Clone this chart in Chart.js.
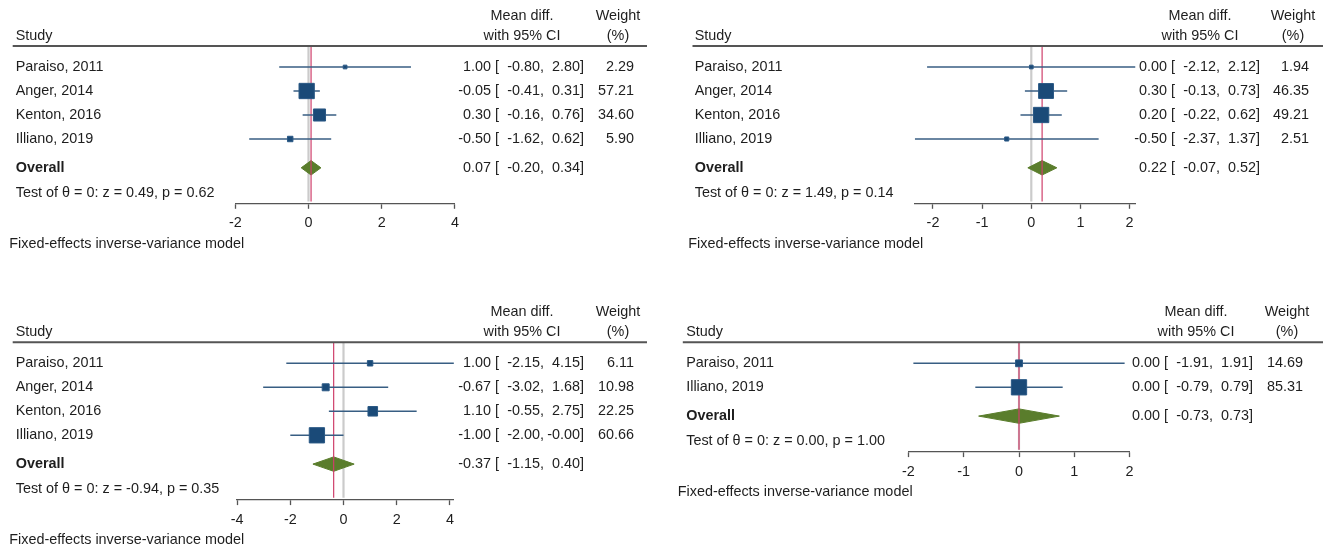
<!DOCTYPE html>
<html>
<head>
<meta charset="utf-8">
<script src="https://cdn.jsdelivr.net/npm/chart.js@4.4.1/dist/chart.umd.min.js"></script>
<style>
  body { margin: 0; background: #fff; width: 1325px; height: 546px; position: relative; overflow: hidden; }
  .panel { position: absolute; width: 660px; height: 256px; }
</style>
</head>
<body>
<div class="panel" style="left:0;top:0"><canvas id="plotA" width="660" height="256"></canvas></div>
<div class="panel" style="left:665px;top:0"><canvas id="plotB" width="660" height="256"></canvas></div>
<div class="panel" style="left:0;top:290px"><canvas id="plotC" width="660" height="256"></canvas></div>
<div class="panel" style="left:665px;top:290px"><canvas id="plotD" width="660" height="256"></canvas></div>
<script>
// ---- data, one block per forest plot ----

// top left
const studiesA = ['Paraiso, 2011', 'Anger, 2014', 'Kenton, 2016', 'Illiano, 2019'];
const diffA = [1.00, -0.05, 0.30, -0.50];
const lowerA = [-0.80, -0.41, -0.16, -1.62];
const upperA = [2.80, 0.31, 0.76, 0.62];
const weightA = [2.29, 57.21, 34.60, 5.90];
const overallA = [0.07, -0.20, 0.34];   // estimate, lower, upper
const testA = [0.49, 0.62];             // z, p
const ticksA = [-2, 0, 2, 4];

// top right
const studiesB = ['Paraiso, 2011', 'Anger, 2014', 'Kenton, 2016', 'Illiano, 2019'];
const diffB = [0.00, 0.30, 0.20, -0.50];
const lowerB = [-2.12, -0.13, -0.22, -2.37];
const upperB = [2.12, 0.73, 0.62, 1.37];
const weightB = [1.94, 46.35, 49.21, 2.51];
const overallB = [0.22, -0.07, 0.52];
const testB = [1.49, 0.14];
const ticksB = [-2, -1, 0, 1, 2];

// bottom left
const studiesC = ['Paraiso, 2011', 'Anger, 2014', 'Kenton, 2016', 'Illiano, 2019'];
const diffC = [1.00, -0.67, 1.10, -1.00];
const lowerC = [-2.15, -3.02, -0.55, -2.00];
const upperC = [4.15, 1.68, 2.75, -0.00];
const weightC = [6.11, 10.98, 22.25, 60.66];
const overallC = [-0.37, -1.15, 0.40];
const testC = [-0.94, 0.35];
const ticksC = [-4, -2, 0, 2, 4];

// bottom right
const studiesD = ['Paraiso, 2011', 'Illiano, 2019'];
const diffD = [0.00, 0.00];
const lowerD = [-1.91, -0.79];
const upperD = [1.91, 0.79];
const weightD = [14.69, 85.31];
const overallD = [0.00, -0.73, 0.73];
const testD = [0.00, 1.00];
const ticksD = [-2, -1, 0, 1, 2];

const FOOTNOTE = 'Fixed-effects inverse-variance model';
const FONT = '"Liberation Sans", Arial, Helvetica, sans-serif';
const FONT_SIZE = 14.4;

// Colours (Stata-ish scheme)
const NAVY = '#1a4a78';
const CI_LINE = '#385e83';
const GREEN = '#5a7d2c';
const NULL_LINE = '#cbcbcb';
const OVERALL_LINE = '#cf3f6b';
const AXIS = '#555555';
const TEXT = '#1e1e1e';

Chart.defaults.font.family = FONT;
Chart.defaults.font.size = FONT_SIZE;
Chart.defaults.color = TEXT;

// pixel layout of each panel (relative to its canvas); ciR = right edge of the CI column
const layouts = {
    A: { plotLeft: 235.3, plotRight: 454.9, headerY: 46, studyX: 15.7, footX: 9.3, ruleX0: 12.7, ruleX1: 647,
         ciR: 584, wR: 634, mdC: 522, wC: 618 },
    B: { plotLeft: 249.8, plotRight: 470.5, headerY: 46, studyX: 29.7, footX: 23.3, ruleX0: 27.5, ruleX1: 658,
         ciR: 595, wR: 644, mdC: 535, wC: 628 },
    C: { plotLeft: 237.1, plotRight: 453.9, headerY: 52.3, studyX: 15.7, footX: 9.3, ruleX0: 12.7, ruleX1: 647,
         ciR: 584, wR: 634, mdC: 522, wC: 618 },
    D: { plotLeft: 243.4, plotRight: 464.6, headerY: 52.3, studyX: 21.2, footX: 12.7, ruleX0: 17.8, ruleX1: 658,
         ciR: 588, wR: 638, mdC: 531, wC: 622 }
};

const ROW_H = 24;          // px between study rows
const TOP_PAD = 0.875;     // rows between header rule and first study
const AXIS_GAP = 1.7;      // rows between last study and the x axis
const X_AXIS_H = 30;
const CANVAS_H = 256;
const CANVAS_W = 660;

function fmt(v) {
    if (Object.is(v, -0)) return '-0.00';
    return v.toFixed(2);
}

// Overall diamond: drawn right after the grey null line, under the overall line and study marks
const diamondPlugin = {
    id: 'forestDiamond',
    afterDatasetDraw(chart, args) {
        if (chart.data.datasets[args.index].label !== 'null line') return;
        const p = chart.options.plugins.forestTable;
        const x = chart.scales.x;
        const y = chart.scales.y;
        const r = p.studies.length + 0.2;
        const ctx = chart.ctx;
        ctx.save();
        ctx.fillStyle = GREEN;
        ctx.strokeStyle = GREEN;
        ctx.lineWidth = 1;
        ctx.beginPath();
        ctx.moveTo(x.getPixelForValue(p.overall[1]), y.getPixelForValue(r));
        ctx.lineTo(x.getPixelForValue(p.overall[0]), y.getPixelForValue(r - 0.3));
        ctx.lineTo(x.getPixelForValue(p.overall[2]), y.getPixelForValue(r));
        ctx.lineTo(x.getPixelForValue(p.overall[0]), y.getPixelForValue(r + 0.3));
        ctx.closePath();
        ctx.fill();
        ctx.stroke();
        ctx.restore();
    }
};

// Text columns, header rule and footnote
const tablePlugin = {
    id: 'forestTable',
    afterDraw(chart) {
        const p = chart.options.plugins.forestTable;
        const L = p.layout;
        const ctx = chart.ctx;
        const y = chart.scales.y;
        const n = p.studies.length;
        ctx.save();
        ctx.fillStyle = TEXT;
        ctx.textBaseline = 'middle';
        const normal = FONT_SIZE + 'px ' + FONT;
        const bold = 'bold ' + FONT_SIZE + 'px ' + FONT;
        ctx.font = normal;

        // header
        ctx.textAlign = 'left';
        ctx.fillText('Study', L.studyX, L.headerY - 10);
        ctx.textAlign = 'center';
        ctx.fillText('Mean diff.', L.mdC, L.headerY - 30);
        ctx.fillText('with 95% CI', L.mdC, L.headerY - 10);
        ctx.fillText('Weight', L.wC, L.headerY - 30);
        ctx.fillText('(%)', L.wC, L.headerY - 10);

        ctx.strokeStyle = AXIS;
        ctx.lineWidth = 2;
        ctx.beginPath();
        ctx.moveTo(L.ruleX0, L.headerY);
        ctx.lineTo(L.ruleX1, L.headerY);
        ctx.stroke();

        // "est [ lo,  hi]" with each number right aligned in its own column
        const ciText = (yy, est, lo, hi) => {
            ctx.textAlign = 'right';
            ctx.fillText(fmt(est), L.ciR - 93, yy);
            ctx.textAlign = 'left';
            ctx.fillText('[', L.ciR - 89, yy);
            ctx.textAlign = 'right';
            ctx.fillText(fmt(lo) + ',', L.ciR - 40, yy);
            ctx.fillText(fmt(hi) + ']', L.ciR, yy);
        };

        // study rows
        for (let i = 0; i < n; i++) {
            const yy = y.getPixelForValue(i);
            ctx.textAlign = 'left';
            ctx.fillText(p.studies[i], L.studyX, yy);
            ciText(yy, p.diff[i], p.lower[i], p.upper[i]);
            ctx.textAlign = 'right';
            ctx.fillText(fmt(p.weight[i]), L.wR, yy);
        }

        // overall row
        const yo = y.getPixelForValue(n + 0.2);
        ctx.font = bold;
        ctx.textAlign = 'left';
        ctx.fillText('Overall', L.studyX, yo);
        ctx.font = normal;
        ciText(yo, p.overall[0], p.overall[1], p.overall[2]);

        // test of overall effect
        const yt = y.getPixelForValue(n + 1.25);
        ctx.textAlign = 'left';
        ctx.fillText('Test of \u03b8 = 0: z = ' + fmt(p.test[0]) + ', p = ' + fmt(p.test[1]), L.studyX, yt);

        // footnote
        ctx.fillText(FOOTNOTE, L.footX, chart.chartArea.bottom + 40);
        ctx.restore();
    }
};

function buildPanel(id, key, studies, diff, lower, upper, weight, overall, test, ticks) {
    const L = layouts[key];
    const n = studies.length;
    const yMin = -TOP_PAD;
    const yMax = n + AXIS_GAP;
    const axisY = L.headerY + (yMax - yMin) * ROW_H;
    const xMin = Math.min(ticks[0], ...lower);
    const xMax = Math.max(ticks[ticks.length - 1], ...upper);
    const maxW = Math.max(...weight);

    const datasets = [];

    // study squares, area proportional to weight
    datasets.push({
        label: 'studies',
        data: diff.map((d, i) => ({ x: d, y: i })),
        showLine: false,
        pointStyle: 'rect',
        pointRadius: weight.map(w => (14.5 * Math.sqrt(w / maxW) + 0.8) / (2 * Math.SQRT1_2)),
        backgroundColor: NAVY,
        borderColor: '#2b5985',
        borderWidth: 1,
        order: 0
    });

    // confidence intervals
    for (let i = 0; i < n; i++) {
        datasets.push({
            label: 'ci' + i,
            data: [{ x: lower[i], y: i }, { x: upper[i], y: i }],
            borderColor: CI_LINE,
            borderWidth: 1.5,
            pointRadius: 0,
            order: 2
        });
    }

    // vertical lines: overall estimate over the null-effect line
    datasets.push({
        label: 'overall line',
        data: [{ x: overall[0], y: yMin }, { x: overall[0], y: n + 1.6 }],
        borderColor: OVERALL_LINE,
        borderWidth: 1.2,
        pointRadius: 0,
        order: 3
    });
    datasets.push({
        label: 'null line',
        data: [{ x: 0, y: yMin }, { x: 0, y: n + 1.6 }],
        borderColor: NULL_LINE,
        borderWidth: 2.2,
        pointRadius: 0,
        order: 4
    });

    return new Chart(document.getElementById(id), {
        type: 'line',
        data: { datasets: datasets },
        plugins: [diamondPlugin, tablePlugin],
        options: {
            responsive: false,
            animation: false,
            events: [],
            layout: {
                padding: {
                    left: L.plotLeft,
                    right: CANVAS_W - L.plotRight,
                    top: L.headerY,
                    bottom: CANVAS_H - axisY - X_AXIS_H
                }
            },
            plugins: {
                legend: { display: false },
                tooltip: { enabled: false },
                forestTable: {
                    layout: L, studies, diff, lower, upper, weight, overall, test
                }
            },
            scales: {
                x: {
                    type: 'linear',
                    min: xMin,
                    max: xMax,
                    afterBuildTicks: (scale) => {
                        scale.ticks = ticks.map(v => ({ value: v }));
                    },
                    afterFit: (scale) => {
                        scale.height = X_AXIS_H;
                    },
                    border: { display: true, color: AXIS, width: 1.3 },
                    grid: {
                        drawOnChartArea: false,
                        drawTicks: true,
                        tickLength: 5,
                        tickColor: AXIS,
                        tickWidth: 1.3
                    },
                    ticks: {
                        color: TEXT,
                        padding: 6,
                        maxRotation: 0,
                        autoSkip: false,
                        font: { size: FONT_SIZE }
                    }
                },
                y: {
                    type: 'linear',
                    display: false,
                    reverse: true,
                    min: yMin,
                    max: yMax
                }
            }
        }
    });
}

buildPanel('plotA', 'A', studiesA, diffA, lowerA, upperA, weightA, overallA, testA, ticksA);
buildPanel('plotB', 'B', studiesB, diffB, lowerB, upperB, weightB, overallB, testB, ticksB);
buildPanel('plotC', 'C', studiesC, diffC, lowerC, upperC, weightC, overallC, testC, ticksC);
buildPanel('plotD', 'D', studiesD, diffD, lowerD, upperD, weightD, overallD, testD, ticksD);
</script>
</body>
</html>
